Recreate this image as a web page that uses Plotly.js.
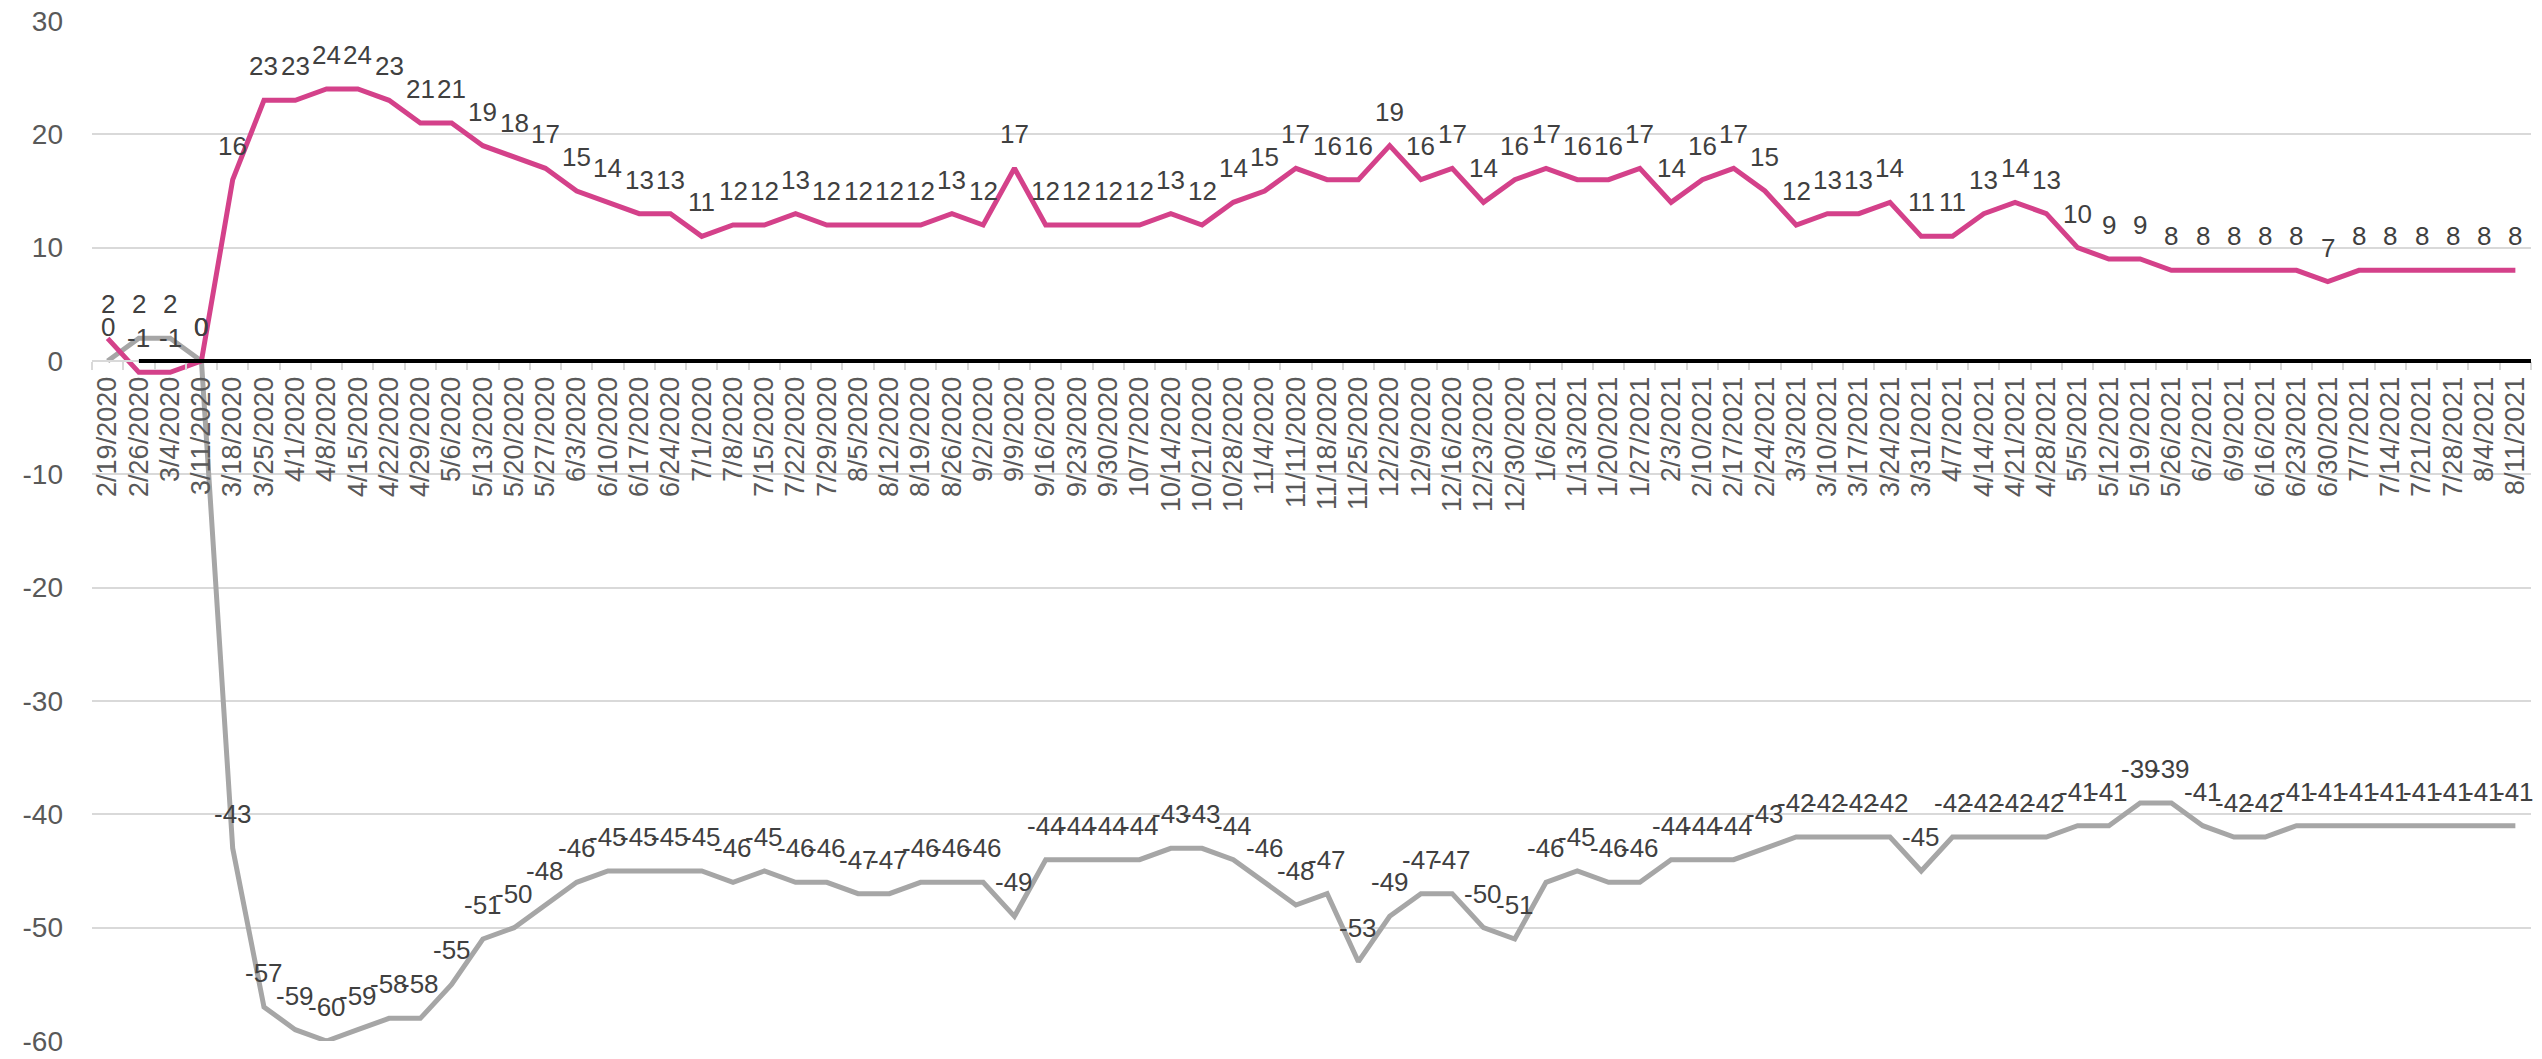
<!DOCTYPE html>
<html>
<head>
<meta charset="utf-8">
<script src="https://cdn.plot.ly/plotly-3.0.1.min.js"></script>
<style>
  html, body { margin: 0; padding: 0; background: #ffffff; }
  #chart { width: 2542px; height: 1059px; }
</style>
</head>
<body>
<div id="chart"></div>
<script>
const dates = [
  "2/19/2020","2/26/2020","3/4/2020","3/11/2020","3/18/2020","3/25/2020","4/1/2020","4/8/2020","4/15/2020","4/22/2020",
  "4/29/2020","5/6/2020","5/13/2020","5/20/2020","5/27/2020","6/3/2020","6/10/2020","6/17/2020","6/24/2020","7/1/2020",
  "7/8/2020","7/15/2020","7/22/2020","7/29/2020","8/5/2020","8/12/2020","8/19/2020","8/26/2020","9/2/2020","9/9/2020",
  "9/16/2020","9/23/2020","9/30/2020","10/7/2020","10/14/2020","10/21/2020","10/28/2020","11/4/2020","11/11/2020","11/18/2020",
  "11/25/2020","12/2/2020","12/9/2020","12/16/2020","12/23/2020","12/30/2020","1/6/2021","1/13/2021","1/20/2021","1/27/2021",
  "2/3/2021","2/10/2021","2/17/2021","2/24/2021","3/3/2021","3/10/2021","3/17/2021","3/24/2021","3/31/2021","4/7/2021",
  "4/14/2021","4/21/2021","4/28/2021","5/5/2021","5/12/2021","5/19/2021","5/26/2021","6/2/2021","6/9/2021","6/16/2021",
  "6/23/2021","6/30/2021","7/7/2021","7/14/2021","7/21/2021","7/28/2021","8/4/2021","8/11/2021"
];

const pinkValues = [
  2,-1,-1,0,16,23,23,24,24,23,
  21,21,19,18,17,15,14,13,13,11,
  12,12,13,12,12,12,12,13,12,17,
  12,12,12,12,13,12,14,15,17,16,
  16,19,16,17,14,16,17,16,16,17,
  14,16,17,15,12,13,13,14,11,11,
  13,14,13,10,9,9,8,8,8,8,
  8,7,8,8,8,8,8,8
];

const grayValues = [
  0,2,2,0,-43,-57,-59,-60,-59,-58,
  -58,-55,-51,-50,-48,-46,-45,-45,-45,-45,
  -46,-45,-46,-46,-47,-47,-46,-46,-46,-49,
  -44,-44,-44,-44,-43,-43,-44,-46,-48,-47,
  -53,-49,-47,-47,-50,-51,-46,-45,-46,-46,
  -44,-44,-44,-43,-42,-42,-42,-42,-45,-42,
  -42,-42,-42,-41,-41,-39,-39,-41,-42,-42,
  -41,-41,-41,-41,-41,-41,-41,-41
];

const yTicks = [-60,-50,-40,-30,-20,-10,0,10,20,30];
const yMin = -60, yMax = 30;

const FONT = "'Liberation Sans', Arial, sans-serif";
const PINK = "#d4418a";
const GRAY = "#a6a6a6";

const traces = [
  { x: dates, y: grayValues, type: "scatter", mode: "lines",
    line: { color: GRAY, width: 5 }, hoverinfo: "skip", showlegend: false },
  { x: dates, y: pinkValues, type: "scatter", mode: "lines",
    line: { color: PINK, width: 5 }, hoverinfo: "skip", showlegend: false }
];

const annotations = [];
[grayValues, pinkValues].forEach(function (vals) {
  vals.forEach(function (v, i) {
    annotations.push({
      x: dates[i], y: v, xref: "x", yref: "y",
      text: String(v), showarrow: false,
      xanchor: "center", yanchor: "middle", yshift: 34,
      font: { family: FONT, size: 26, color: "#404040" }
    });
  });
});

const layout = {
  width: 2542, height: 1059,
  margin: { l: 92, r: 11, t: 21, b: 18, pad: 0 },
  paper_bgcolor: "#ffffff", plot_bgcolor: "#ffffff",
  showlegend: false,
  xaxis: {
    type: "category",
    range: [-0.5, dates.length - 0.5],
    tickmode: "linear", tick0: 0, dtick: 1,
    tickangle: -90,
    ticks: "outside", tickson: "boundaries", ticklen: 8, tickwidth: 2, tickcolor: "#d9d9d9",
    ticklabelstandoff: 4,
    showline: true, linecolor: "#d9d9d9", linewidth: 2,
    showgrid: false, zeroline: false,
    anchor: "free", position: (0 - yMin) / (yMax - yMin),
    tickfont: { family: FONT, size: 27, color: "#595959" },
    fixedrange: true
  },
  yaxis: {
    range: [yMin, yMax],
    tickmode: "array", tickvals: yTicks, ticktext: yTicks.map(String),
    showgrid: true, gridcolor: "#d9d9d9", gridwidth: 2,
    zeroline: false, showline: false,
    ticks: "", ticklabelstandoff: 28,
    tickfont: { family: FONT, size: 28, color: "#595959" },
    fixedrange: true
  },
  shapes: [{
    type: "line", xref: "x", yref: "y", layer: "above",
    x0: dates[1], x1: dates[dates.length - 1], x1shift: 0.5,
    y0: 0, y1: 0,
    line: { color: "#000000", width: 4 }
  }],
  annotations: annotations
};

Plotly.newPlot("chart", traces, layout, { staticPlot: true, displayModeBar: false });
</script>
</body>
</html>
